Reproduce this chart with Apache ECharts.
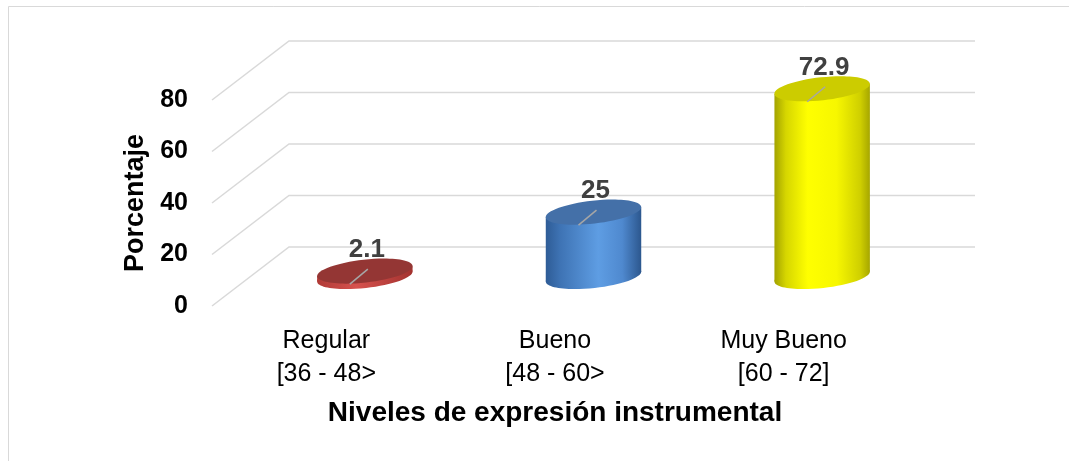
<!DOCTYPE html>
<html>
<head>
<meta charset="utf-8">
<script src="https://cdn.jsdelivr.net/npm/echarts@6/dist/echarts.min.js"></script>
<style>
  html, body { margin: 0; padding: 0; background: #fff; }
  #chart { width: 1069px; height: 461px; }
</style>
</head>
<body>
<div id="chart"></div>
<script>
// datos
const levels = ['Regular', 'Bueno', 'Muy Bueno']
const ranges = ['[36 - 48>', '[48 - 60>', '[60 - 72]']
const percentages = [2.1, 25, 72.9]
const yTicks = [0, 20, 40, 60, 80]

// estilo de los cilindros (tapa + degradado lateral)
const palette = [
  {top: '#943634', side: [[0, '#B03A36'], [0.4, '#D6524E'], [1, '#A3322F']]},
  {top: '#4470A8', side: [[0, '#2E5C96'], [0.15, '#3E73B4'], [0.55, '#5E9DE3'], [0.8, '#4F89CF'], [1, '#2C578E']]},
  {top: '#CCCC00', side: [[0, '#A3A300'], [0.12, '#D6D600'], [0.35, '#FFFF00'], [0.65, '#F7F700'], [0.9, '#CFCF00'], [1, '#A6A600']]}
]

const DX = 77, DY = 59          // profundidad de la pared del fondo
const FONT = '"Liberation Sans", Arial, sans-serif'

const chart = echarts.init(document.getElementById('chart'))

function renderWall(params, api) {
  const cs = params.coordSys
  const y = api.coord([0, api.value(1)])[1]
  return {
    type: 'polyline',
    silent: true,
    shape: {points: [[cs.x, y], [cs.x + DX, y - DY], [cs.x + cs.width + DX, y - DY]]},
    style: {stroke: '#D9D9D9', lineWidth: 1.5, fill: null}
  }
}

function renderBar(params, api) {
  const i = api.value(0), v = api.value(1)
  const base = api.coord([i, 0]), top = api.coord([i, v])
  const bx = base[0] + DX / 2, by = base[1] - DY / 2
  const ty = top[1] - DY / 2
  const rx = 48, ry = 11.5, th = 0.11
  const ct = Math.cos(th), st = Math.sin(th)
  const t0 = Math.atan2(st * ry, ct * rx)
  const ox = ct * rx * Math.cos(t0) + st * ry * Math.sin(t0)
  const oy = -st * rx * Math.cos(t0) + ct * ry * Math.sin(t0)
  const c = palette[i]
  const side = () => new echarts.graphic.LinearGradient(0, 0, 1, 0,
    c.side.map(s => ({offset: s[0], color: s[1]})))
  return {
    type: 'group',
    children: [
      {type: 'ellipse', shape: {cx: bx, cy: by, rx, ry}, rotation: th, originX: bx, originY: by, style: {fill: side()}},
      {type: 'polygon', shape: {points: [[bx - ox, ty - oy], [bx + ox, ty + oy], [bx + ox, by + oy], [bx - ox, by - oy]]}, style: {fill: side()}},
      {type: 'ellipse', shape: {cx: bx, cy: ty, rx, ry}, rotation: th, originX: bx, originY: ty, style: {fill: c.top}},
      {type: 'line', shape: {x1: bx + 3, y1: ty - 2, x2: bx - 15, y2: ty + 13}, style: {stroke: '#A6A6A6', lineWidth: 1.5}},
      {type: 'text', x: bx + 2, y: ty - 21, style: {
        text: String(v), font: 'bold 26px ' + FONT, fill: '#404040', align: 'center', verticalAlign: 'middle'
      }}
    ]
  }
}

chart.setOption({
  animation: false,
  backgroundColor: '#fff',
  graphic: [{
    type: 'rect', silent: true,
    shape: {x: 8.5, y: 6.5, width: 1200, height: 600},
    style: {fill: null, stroke: '#D9D9D9', lineWidth: 1}
  }],
  grid: {left: 212, width: 686, top: 100, bottom: 155},
  xAxis: {
    type: 'category',
    data: levels.map((l, i) => l + '\n' + ranges[i]),
    axisLine: {show: false},
    axisTick: {show: false},
    axisLabel: {fontSize: 25, lineHeight: 33, color: '#000', fontFamily: FONT, margin: 19},
    name: 'Niveles de expresión instrumental',
    nameLocation: 'middle',
    nameGap: 93,
    nameTextStyle: {fontSize: 28, fontWeight: 'bold', color: '#000', fontFamily: FONT}
  },
  yAxis: {
    type: 'value',
    min: 0, max: 80, interval: 20,
    axisLine: {show: false},
    axisTick: {show: false},
    splitLine: {show: false},
    axisLabel: {fontSize: 25, fontWeight: 'bold', color: '#000', fontFamily: FONT, margin: 24},
    name: 'Porcentaje',
    nameLocation: 'middle',
    nameGap: 62,
    nameTextStyle: {fontSize: 27, fontWeight: 'bold', color: '#000', fontFamily: FONT}
  },
  series: [
    {
      type: 'custom',
      silent: true,
      renderItem: renderWall,
      encode: {x: 0, y: 1},
      data: yTicks.map(t => [0, t]),
      z: 1
    },
    {
      type: 'custom',
      renderItem: renderBar,
      encode: {x: 0, y: 1},
      data: percentages.map((p, i) => [i, p]),
      z: 2
    }
  ]
})
</script>
</body>
</html>
